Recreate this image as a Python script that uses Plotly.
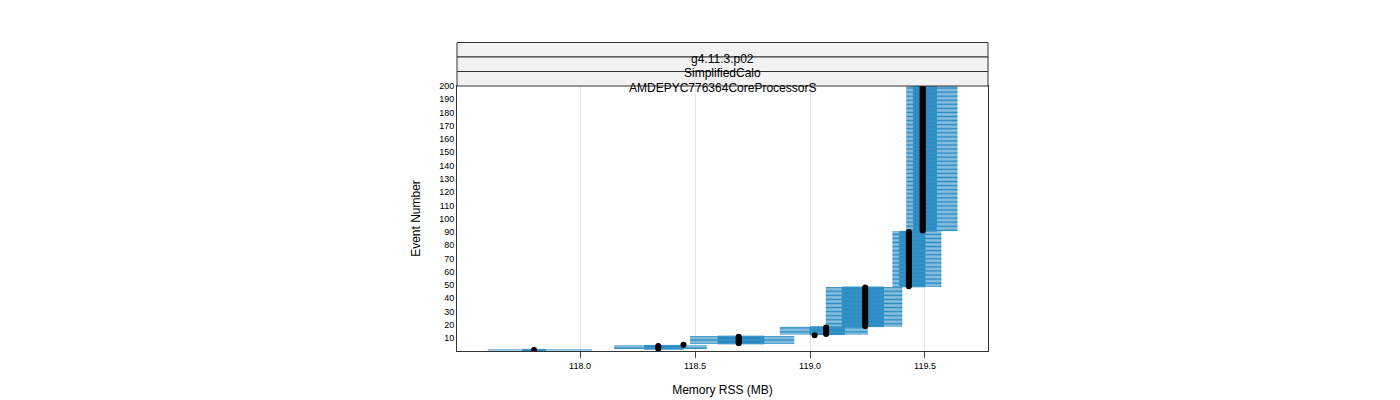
import plotly.graph_objects as go

# group event ranges and box statistics (Memory RSS, MB)
grp_start = [1, 2, 5, 6, 12, 13, 19, 49, 91]
grp_end = [1, 4, 5, 11, 12, 18, 48, 90, 200]
lo = [117.60, 118.15, 118.44, 118.48, 119.01, 118.87, 119.07, 119.36, 119.42]
q1 = [117.75, 118.28, 118.445, 118.60, 119.015, 119.00, 119.14, 119.39, 119.45]
med = [117.80, 118.34, 118.45, 118.69, 119.02, 119.07, 119.24, 119.43, 119.49]
q3 = [117.85, 118.45, 118.455, 118.80, 119.025, 119.15, 119.32, 119.50, 119.55]
hi = [118.05, 118.55, 118.46, 118.93, 119.03, 119.25, 119.40, 119.57, 119.64]

ev, L, Q1, M, Q3, H = [], [], [], [], [], []
for i in range(len(grp_start)):
    for e in range(grp_start[i], grp_end[i] + 1):
        ev.append(e); L.append(lo[i]); Q1.append(q1[i]); M.append(med[i]); Q3.append(q3[i]); H.append(hi[i])

fig = go.Figure()
fig.add_trace(go.Box(y=ev, lowerfence=L, q1=Q1, median=M, q3=Q3, upperfence=H,
                     orientation="h", fillcolor="rgba(0,114,178,0.6)",
                     line=dict(color="#2b8cc4", width=1), width=0.8, showlegend=False,
                     hoverinfo="skip"))
fig.add_trace(go.Scatter(x=M, y=ev, mode="markers", marker=dict(color="black", size=6),
                         showlegend=False))

strips = ["g4.11.3.p02", "SimplifiedCalo", "AMDEPYC776364CoreProcessorS"]
shapes, ann = [], []
h = 14.5 / 265
for k, s in enumerate(strips):
    y0 = 1 + (2 - k) * h
    shapes.append(dict(type="rect", xref="paper", yref="paper", x0=0, x1=1, y0=y0, y1=y0 + h,
                       fillcolor="#f2f2f2", line=dict(color="#333", width=1)))
    ann.append(dict(text=s, xref="paper", yref="paper", x=0.5, y=y0 + h / 2, showarrow=False,
                    font=dict(size=12, color="black")))

fig.update_layout(width=1400, height=400, plot_bgcolor="white", paper_bgcolor="white",
                  margin=dict(l=449, r=420, t=78, b=57), shapes=shapes, annotations=ann,
                  font=dict(family="Liberation Sans", color="black"))
fig.update_xaxes(range=[117.465, 119.774], tickvals=[118.0, 118.5, 119.0, 119.5],
                 ticktext=["118.0", "118.5", "119.0", "119.5"], tickfont=dict(size=9),
                 showgrid=True, gridcolor="#e6e6e6", showline=True, linecolor="#333",
                 mirror=True, ticks="outside", ticklen=6, zeroline=False,
                 title=dict(text="Memory RSS (MB)", font=dict(size=12)))
fig.update_yaxes(range=[0.2, 200], tickvals=list(range(10, 201, 10)), tickfont=dict(size=9),
                 showgrid=False, showline=True, linecolor="#333", mirror=True, ticks="",
                 zeroline=False, title=dict(text="Event Number", font=dict(size=12)))
fig.write_html("out.html")
